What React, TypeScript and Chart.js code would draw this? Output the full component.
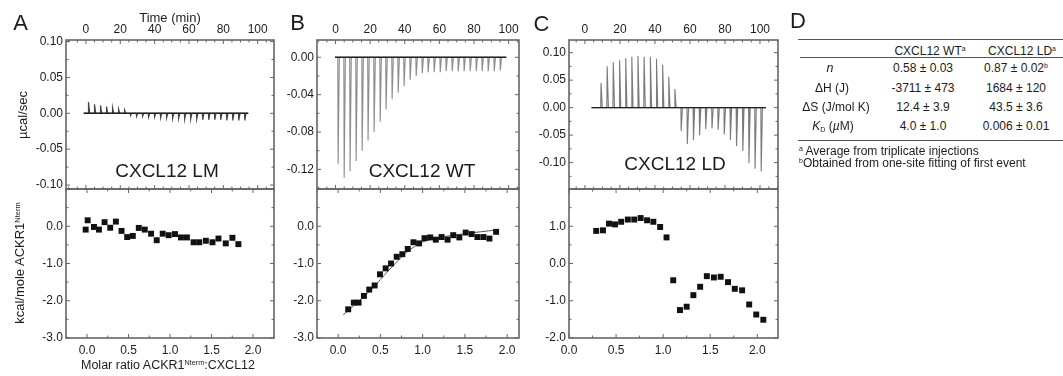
import React, { useEffect, useRef } from "react";
import { Chart, registerables } from "chart.js";

Chart.register(...registerables);

const FONT = "'Liberation Sans', Arial, Helvetica, sans-serif";
const INK = "#1c1c1c";
const FRAME = "#666666";

// ---------- Panel A : CXCL12 LM ----------
const lmInjTime = [1.3, 4.8, 8.3, 11.8, 15.3, 18.8, 22.3, 25.8, 29.3, 32.8, 36.3, 39.8, 43.3, 46.8, 50.3, 53.8, 57.3, 60.8, 64.3, 67.8, 71.3, 74.8, 78.3, 81.8, 85.3, 88.8, 92.3];
const lmInjPeak = [0.0156, 0.0125, 0.011, 0.0095, 0.008, 0.006, 0.0045, -0.003, -0.004, -0.004, -0.005, -0.005, -0.006, -0.006, -0.007, -0.007, -0.008, -0.008, -0.008, -0.009, -0.009, -0.009, -0.009, -0.01, -0.01, -0.01, -0.01];
const lmTraceRange = [-1.3, 94.5];
const lmRatio = [-0.016, 0.008, 0.084, 0.144, 0.212, 0.28, 0.348, 0.416, 0.484, 0.552, 0.624, 0.696, 0.772, 0.84, 0.912, 0.984, 1.06, 1.132, 1.204, 1.284, 1.352, 1.432, 1.512, 1.584, 1.672, 1.752, 1.824];
const lmHeat = [-0.09, 0.16, -0.02, -0.09, 0.11, -0.04, 0.125, -0.125, -0.29, -0.26, -0.045, -0.09, -0.2, -0.375, -0.2, -0.24, -0.21, -0.3, -0.3, -0.43, -0.43, -0.39, -0.43, -0.33, -0.46, -0.31, -0.48];

// ---------- Panel B : CXCL12 WT ----------
const wtInjTime = [1.3, 4.8, 8.2, 11.7, 15.2, 18.6, 22.1, 25.6, 29.0, 32.5, 36.0, 39.4, 42.9, 46.4, 49.9, 53.3, 56.8, 60.3, 63.7, 67.2, 70.7, 74.1, 77.6, 81.1, 84.5, 88.0, 91.5, 95.0];
const wtInjPeak = [-0.114, -0.129, -0.122, -0.111, -0.1, -0.089, -0.08, -0.069, -0.056, -0.045, -0.038, -0.031, -0.024, -0.02, -0.017, -0.016, -0.016, -0.016, -0.015, -0.015, -0.015, -0.015, -0.015, -0.015, -0.015, -0.015, -0.015, -0.014];
const wtTraceRange = [-0.3, 98.7];
const wtRatio = [0.119, 0.186, 0.242, 0.305, 0.368, 0.432, 0.495, 0.562, 0.626, 0.693, 0.76, 0.824, 0.891, 0.958, 1.022, 1.089, 1.156, 1.224, 1.295, 1.362, 1.434, 1.509, 1.58, 1.648, 1.719, 1.79, 1.869];
const wtHeat = [-2.23, -2.05, -2.05, -1.87, -1.7, -1.59, -1.29, -1.13, -1.0, -0.82, -0.75, -0.61, -0.43, -0.46, -0.32, -0.3, -0.36, -0.29, -0.36, -0.24, -0.3, -0.17, -0.21, -0.29, -0.29, -0.33, -0.15];
const wtFitRatio = [0.06, 0.2, 0.4, 0.6, 0.8, 0.9, 1.0, 1.2, 1.5, 1.87];
const wtFitHeat = [-2.38, -2.1, -1.68, -1.18, -0.72, -0.55, -0.42, -0.3, -0.2, -0.1];

// ---------- Panel C : CXCL12 LD ----------
const ldInjTime = [9.0, 12.5, 16.0, 19.6, 23.1, 26.6, 30.1, 33.6, 37.2, 40.7, 44.2, 47.7, 51.2, 54.8, 58.3, 61.8, 65.3, 68.8, 72.4, 75.9, 79.4, 82.9, 86.4, 90.0, 93.5, 97.0, 100.5];
const ldInjPeak = [0.045, 0.075, 0.0825, 0.086, 0.09, 0.0925, 0.094, 0.0925, 0.0925, 0.089, 0.078, 0.056, 0.034, -0.0425, -0.066, -0.059, -0.05, -0.039, -0.0375, -0.04, -0.049, -0.059, -0.07, -0.079, -0.101, -0.111, -0.116];
const ldTraceRange = [3.8, 103.4];
const ldRatio = [0.289, 0.361, 0.425, 0.489, 0.554, 0.625, 0.693, 0.761, 0.829, 0.896, 0.968, 1.036, 1.107, 1.179, 1.25, 1.321, 1.393, 1.464, 1.539, 1.611, 1.689, 1.761, 1.839, 1.914, 1.989, 2.064];
const ldHeat = [0.875, 0.89, 1.07, 1.05, 1.12, 1.18, 1.18, 1.22, 1.16, 1.12, 0.98, 0.7, -0.45, -1.25, -1.16, -0.85, -0.625, -0.34, -0.375, -0.357, -0.5, -0.68, -0.72, -1.1, -1.37, -1.51];

// ---------- Table D ----------
const tableCols = ["CXCL12 WT", "CXCL12 LD"];
const tableWT = ["0.58 ± 0.03", "-3711 ± 473", "12.4 ± 3.9", "4.0 ± 1.0"];
const tableLD = ["0.87 ± 0.02", "1684 ± 120", "43.5 ± 3.6", "0.006 ± 0.01"];

// spike shape (styling of each injection peak)
const SPIKE_LEAD = 0.2;
const SPIKE_TAIL = 0.9;

function thermogram(times: number[], peaks: number[], range: number[]) {
  const pts: { x: number; y: number }[] = [{ x: range[0], y: 0 }];
  times.forEach((t, i) => {
    pts.push({ x: t, y: 0 }, { x: t + SPIKE_LEAD, y: peaks[i] }, { x: t + SPIKE_TAIL, y: 0 });
  });
  pts.push({ x: range[1], y: 0 });
  return pts;
}
function xy(xs: number[], ys: number[]) {
  return xs.map((x, i) => ({ x, y: ys[i] }));
}

type Axis = {
  min: number; max: number; major: number; minor: number; digits: number;
  labels: boolean; position?: "top" | "bottom"; hideAbove?: number;
};

function fmt(v: number, a: Axis) {
  if (Math.abs(v) < 1e-9) v = 0;
  if (a.hideAbove !== undefined && v > a.hideAbove) return "";
  if (v < a.min - 1e-9 || v > a.max + 1e-9) return "";
  return Number(v).toFixed(a.digits);
}

function Plot({ box, x, y, datasets }: { box: number[]; x: Axis; y: Axis; datasets: any[] }) {
  const ref = useRef<HTMLCanvasElement>(null);
  const [l, t, r, b] = box;
  const padL = 60, padR = 8, padT = 30, padB = 26;
  const W = r - l + padL + padR;
  const H = b - t + padT + padB;
  useEffect(() => {
    const xTop = x.position === "top";
    const framePlugin = {
      id: "frameTicks",
      afterDatasetsDraw(chart: any) {
        const { ctx, chartArea: a, scales } = chart;
        const sx = scales.x, sy = scales.y;
        ctx.save();
        ctx.strokeStyle = FRAME;
        ctx.lineWidth = 1;
        const marks = (ax: Axis, step: number, len: number, horiz: boolean, skipMajor: boolean) => {
          for (let k = Math.ceil(ax.min / step - 1e-9); k * step <= ax.max + 1e-9; k++) {
            const v = k * step;
            if (skipMajor) {
              const q = v / ax.major;
              if (Math.abs(q - Math.round(q)) < 1e-6) continue;
            }
            ctx.beginPath();
            if (horiz) {
              const p = sx.getPixelForValue(v);
              ctx.moveTo(p, a.top); ctx.lineTo(p, a.top + len);
              ctx.moveTo(p, a.bottom); ctx.lineTo(p, a.bottom - len);
            } else {
              const p = sy.getPixelForValue(v);
              ctx.moveTo(a.left, p); ctx.lineTo(a.left + len, p);
              ctx.moveTo(a.right, p); ctx.lineTo(a.right - len, p);
            }
            ctx.stroke();
          }
        };
        marks(x, x.major, 4, true, false);
        marks(x, x.minor, 2.5, true, true);
        marks(y, y.major, 4, false, false);
        marks(y, y.minor, 2.5, false, true);
        ctx.lineWidth = 1.6;
        ctx.strokeRect(a.left, a.top, a.right - a.left, a.bottom - a.top);
        ctx.restore();
      },
    };
    const tickFont = { family: FONT, size: 12 };
    const chart = new Chart(ref.current as HTMLCanvasElement, {
      type: "scatter",
      data: { datasets },
      options: {
        animation: false,
        responsive: false,
        maintainAspectRatio: false,
        devicePixelRatio: 1,
        layout: { padding: { left: 0, right: padR, top: xTop ? 0 : padT, bottom: xTop ? padB : 0 } },
        plugins: { legend: { display: false }, tooltip: { enabled: false }, title: { display: false } },
        scales: {
          x: {
            type: "linear",
            position: x.position,
            min: x.min,
            max: x.max,
            afterFit: (s: any) => { s.height = xTop ? padT : padB; },
            grid: { display: false, drawTicks: false },
            border: { display: false },
            ticks: {
              display: x.labels,
              stepSize: x.major,
              includeBounds: false,
              autoSkip: false,
              maxRotation: 0,
              padding: xTop ? 3 : 5,
              color: INK,
              font: tickFont,
              callback: (v: any) => fmt(Number(v), x),
            },
          },
          y: {
            type: "linear",
            position: "left",
            min: y.min,
            max: y.max,
            afterFit: (s: any) => { s.width = padL; },
            grid: { display: false, drawTicks: false },
            border: { display: false },
            ticks: {
              display: true,
              stepSize: y.major,
              includeBounds: false,
              autoSkip: false,
              padding: 3,
              color: INK,
              font: tickFont,
              callback: (v: any) => fmt(Number(v), y),
            },
          },
        },
      } as any,
      plugins: [framePlugin],
    });
    return () => chart.destroy();
  }, []);
  return (
    <canvas
      ref={ref}
      width={W}
      height={H}
      style={{ position: "absolute", left: l - padL, top: t - padT, width: W, height: H }}
    />
  );
}

function Txt({ x, y, size = 12, children, rotate = 0, align = "center", italic = false, style = {} }: any) {
  const tx = align === "center" ? "-50%" : align === "right" ? "-100%" : "0";
  return (
    <div
      style={{
        position: "absolute", left: x, top: y,
        transform: `translate(${tx}, -50%) rotate(${rotate}deg)`,
        fontFamily: FONT, fontSize: size, lineHeight: 1, whiteSpace: "nowrap", color: INK,
        fontStyle: italic ? "italic" : "normal", ...style,
      }}
    >
      {children}
    </div>
  );
}

const Sup = ({ children }: any) => (
  <span style={{ fontSize: "0.58em", position: "relative", top: "-0.55em" }}>{children}</span>
);

function traceSets(times: number[], peaks: number[], range: number[], color: string, width: number) {
  return [
    { data: [{ x: range[0], y: 0 }, { x: range[1], y: 0 }], showLine: true, borderColor: "#222", borderWidth: 1.4, pointRadius: 0 },
    { data: thermogram(times, peaks, range), showLine: true, borderColor: color, borderWidth: width, pointRadius: 0, tension: 0 },
  ];
}
function pointSet(xs: number[], ys: number[]) {
  return { data: xy(xs, ys), pointStyle: "rect", pointRadius: 4.2, backgroundColor: "#111", borderColor: "#111", borderWidth: 0, showLine: false };
}

const timeAxis = (min: number, max: number): Axis => ({ min, max, major: 20, minor: 5, digits: 0, labels: true, position: "top" });
const ratioAxis = (min: number, max: number): Axis => ({ min, max, major: 0.5, minor: 0.25, digits: 1, labels: true, position: "bottom" });

export default function App() {
  const rowY = [68.3, 87.7, 106.7, 125.7];
  return (
    <div style={{ position: "absolute", left: 0, top: 0, width: 1063, height: 376, background: "#fff", overflow: "hidden" }}>
      {/* Panel A */}
      <Plot box={[66, 40, 274, 189]} x={timeAxis(-11.6, 109.5)}
        y={{ min: -0.1055, max: 0.1022, major: 0.05, minor: 0.025, digits: 2, labels: true }}
        datasets={traceSets(lmInjTime, lmInjPeak, lmTraceRange, "#444", 1.2)} />
      <Plot box={[66, 189, 274, 338]} x={ratioAxis(-0.253, 2.253)}
        y={{ min: -3, max: 1, major: 1, minor: 0.5, digits: 1, labels: true, hideAbove: 0.5 }}
        datasets={[pointSet(lmRatio, lmHeat)]} />
      {/* Panel B */}
      <Plot box={[317, 40, 519, 189]} x={timeAxis(-10.7, 106)}
        y={{ min: -0.141, max: 0.0185, major: 0.04, minor: 0.02, digits: 2, labels: true }}
        datasets={traceSets(wtInjTime, wtInjPeak, wtTraceRange, "#8c8c8c", 1.1)} />
      <Plot box={[317, 189, 519, 338]} x={ratioAxis(-0.25, 2.14)}
        y={{ min: -3, max: 1, major: 1, minor: 0.5, digits: 1, labels: true, hideAbove: 0.5 }}
        datasets={[
          pointSet(wtRatio, wtHeat),
          { data: xy(wtFitRatio, wtFitHeat), showLine: true, borderColor: "#555", borderWidth: 1, pointRadius: 0, tension: 0.3 },
        ]} />
      {/* Panel C */}
      <Plot box={[569, 40, 778, 189]} x={timeAxis(-9.1, 110.3)}
        y={{ min: -0.148, max: 0.123, major: 0.05, minor: 0.025, digits: 2, labels: true }}
        datasets={traceSets(ldInjTime, ldInjPeak, ldTraceRange, "#7a7a7a", 1.1)} />
      <Plot box={[569, 189, 778, 338]} x={ratioAxis(0, 2.22)}
        y={{ min: -2, max: 2, major: 1, minor: 0.5, digits: 1, labels: true, hideAbove: 1.5 }}
        datasets={[pointSet(ldRatio, ldHeat)]} />

      {/* Panel letters */}
      <Txt x={20.5} y={22.5} size={22}>A</Txt>
      <Txt x={297.5} y={22.5} size={22}>B</Txt>
      <Txt x={541.5} y={24} size={22}>C</Txt>
      <Txt x={798} y={20.5} size={22}>D</Txt>

      {/* Axis titles */}
      <Txt x={170} y={17} size={13}>Time (min)</Txt>
      <Txt x={22} y={115} size={13} rotate={-90}>µcal/sec</Txt>
      <Txt x={19} y={263} size={13} rotate={-90}>kcal/mole ACKR1<Sup>Nterm</Sup></Txt>
      <Txt x={168} y={365} size={12.5}>Molar ratio ACKR1<Sup>Nterm</Sup>:CXCL12</Txt>

      {/* In-plot labels */}
      <Txt x={167} y={170} size={19}>CXCL12 LM</Txt>
      <Txt x={422} y={169.5} size={19}>CXCL12 WT</Txt>
      <Txt x={675} y={163} size={19}>CXCL12 LD</Txt>

      {/* Table D */}
      <div style={{ position: "absolute", left: 798, top: 38.5, width: 265, borderTop: "1.4px solid #555" }} />
      <div style={{ position: "absolute", left: 800, top: 56.5, width: 263, borderTop: "1.2px solid #555" }} />
      <div style={{ position: "absolute", left: 798, top: 139.5, width: 265, borderTop: "1.4px solid #555" }} />
      <Txt x={930} y={50.7} size={12}>{tableCols[0]}<Sup>a</Sup></Txt>
      <Txt x={1022} y={50.7} size={12}>{tableCols[1]}<Sup>a</Sup></Txt>
      <Txt x={830} y={rowY[0]} size={12.5} italic>n</Txt>
      <Txt x={832} y={rowY[1]} size={12}>ΔH (J)</Txt>
      <Txt x={836} y={rowY[2]} size={12}>ΔS (J/mol K)</Txt>
      <Txt x={833} y={rowY[3]} size={12}><i>K</i><span style={{ fontSize: "0.6em", position: "relative", top: "0.3em" }}>D</span> (<i>µ</i>M)</Txt>
      {tableWT.map((s, i) => (
        <Txt key={"w" + i} x={923} y={rowY[i]} size={12}>{s}</Txt>
      ))}
      {tableLD.map((s, i) => (
        <Txt key={"l" + i} x={1016} y={rowY[i]} size={12}>{s}{i === 0 ? <Sup>b</Sup> : null}</Txt>
      ))}
      <Txt x={799} y={150.7} size={12} align="left"><Sup>a</Sup> Average from triplicate injections</Txt>
      <Txt x={799} y={163.3} size={12} align="left"><Sup>b</Sup>Obtained from one-site fitting of first event</Txt>
    </div>
  );
}
